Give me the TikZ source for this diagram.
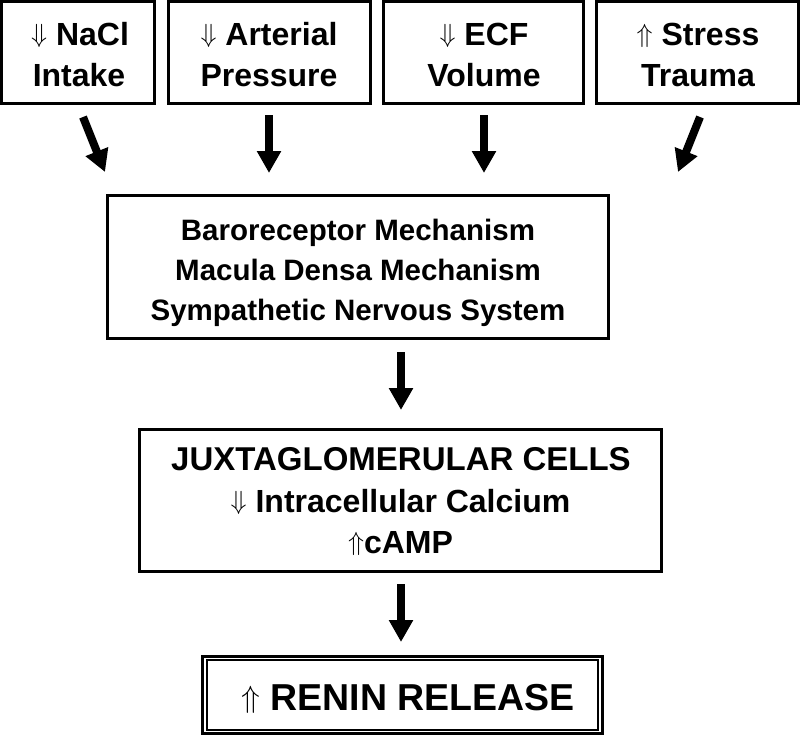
\RequirePackage{fix-cm}
\documentclass[tikz,border=0pt]{standalone}
\usepackage{fontspec}
\usepackage{graphicx}
\setmainfont{Liberation Sans}
\usetikzlibrary{arrows.meta}
\newcommand\dnarrow{\raisebox{0.08em}{\scalebox{0.82}{$\Downarrow$}}}
\newcommand\uparr{\raisebox{0.08em}{\scalebox{0.82}{$\Uparrow$}}}
\begin{document}
\begin{tikzpicture}[x=1pt,y=-1pt,
  box/.style={draw, line width=3pt, inner sep=0pt},
  txt/.style={anchor=base, inner sep=0pt, font=\bfseries\fontsize{#1}{#1}\selectfont},
  bigarrow/.style={line width=8pt, -{Triangle[length=22pt,width=23pt]}}]
\useasboundingbox (0,0) rectangle (800,736);
% boxes
\node[box, minimum width=153pt, minimum height=102pt] (b1) at (78,52.5) {};
\node[box, minimum width=202pt, minimum height=102pt] (b2) at (269.5,52.5) {};
\node[box, minimum width=200pt, minimum height=102pt] (b3) at (483.5,52.5) {};
\node[box, minimum width=202pt, minimum height=102pt] (b4) at (697.5,52.5) {};
\node[box, minimum width=501pt, minimum height=143pt] (mech) at (358,267) {};
\node[box, minimum width=522pt, minimum height=142pt] (jg) at (400.5,500.5) {};
\node[box, minimum width=400pt, minimum height=77pt] (renin) at (402.5,695) {};
\draw[line width=2pt] ([shift={(5.5pt,-5pt)}]renin.north west) rectangle ([shift={(-6.5pt,5.5pt)}]renin.south east);
% texts
\node[txt=32] (t1a) at (80,45) {\dnarrow\ NaCl};
\node[txt=32] (t1b) at (79,86) {Intake};
\node[txt=32] (t2a) at (269,45) {\dnarrow\ Arterial};
\node[txt=32] (t2b) at (269,86) {Pressure};
\node[txt=32] (t3a) at (484,45) {\dnarrow\ ECF};
\node[txt=32] (t3b) at (484,86) {Volume};
\node[txt=32] (t4a) at (698,45) {\uparr\ Stress};
\node[txt=32] (t4b) at (698,86) {Trauma};
\node[txt=29.5] (m1) at (358,240) {Baroreceptor Mechanism};
\node[txt=29.5] (m2) at (358,280) {Macula Densa Mechanism};
\node[txt=29.5] (m3) at (358,320) {Sympathetic Nervous System};
\node[txt=33] (j1) at (401,470) {JUXTAGLOMERULAR CELLS};
\node[txt=32] (j2) at (400.5,512) {\dnarrow\ Intracellular Calcium};
\node[txt=32] (j3) at (400.5,553) {\uparr cAMP};
\node[txt=37.5] (r1) at (408,710) {\uparr\ RENIN RELEASE};
% arrows
\coordinate (a1s) at (83,117); \coordinate (a1e) at (105,172);
\coordinate (a2s) at (269,115); \coordinate (a2e) at (269,173);
\coordinate (a3s) at (484,115); \coordinate (a3e) at (484,173);
\coordinate (a4s) at (700,117); \coordinate (a4e) at (678,172);
\coordinate (a5s) at (401,352); \coordinate (a5e) at (401,410);
\coordinate (a6s) at (401,584); \coordinate (a6e) at (401,642);
\foreach \i in {1,...,6} \draw[bigarrow] (a\i s) -- (a\i e);
\end{tikzpicture}
\end{document}
